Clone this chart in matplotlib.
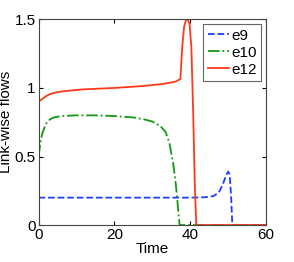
import numpy as np
import matplotlib.pyplot as plt

plt.rcParams['font.family'] = ['Liberation Sans', 'DejaVu Sans']

# e9 (blue dashed)
t9 = [0, 10, 20, 30, 40, 44, 46, 47.5, 48.5, 49.3, 50.0, 50.4, 50.8, 51.1, 51.3, 60]
f9 = [0.2, 0.2, 0.2, 0.2, 0.2, 0.203, 0.21, 0.235, 0.29, 0.35, 0.39, 0.37, 0.2, 0.0, 0.0, 0.0]

# e10 (green dash-dot)
t10 = [0, 0.5, 1, 2, 3, 4, 6, 10, 15, 20, 25, 28, 30, 32, 33.5, 34.5, 35.5, 36.2, 36.8, 37.2, 60]
f10 = [0.5, 0.6, 0.67, 0.74, 0.77, 0.785, 0.795, 0.8, 0.8, 0.795, 0.785, 0.77, 0.755, 0.725, 0.68, 0.6, 0.45, 0.3, 0.12, 0.0, 0.0]

# e12 (red solid)
t12 = [0, 1, 2, 3, 5, 8, 12, 20, 28, 33, 36, 37.4, 37.9, 38.4, 38.9, 39.3, 39.8, 40.3, 40.8, 41.2, 41.6, 60]
f12 = [0.9, 0.92, 0.94, 0.955, 0.97, 0.98, 0.99, 1.0, 1.015, 1.03, 1.045, 1.065, 1.3, 1.45, 1.495, 1.5, 1.47, 1.3, 0.8, 0.3, 0.0, 0.0]

fig = plt.figure(figsize=(2.94, 2.62), dpi=100)
ax = fig.add_axes([0.131, 0.141, 0.774, 0.785])
ax.plot(t9, f9, '--', color='#1f3fff', lw=1.3, label='e9')
ax.plot(t10, f10, '-.', color='#119911', lw=1.3, label='e10')
ax.plot(t12, f12, '-', color='#ff3a1a', lw=1.3, label='e12')

ax.set_xlim(0, 60)
ax.set_ylim(0, 1.5)
ax.set_xticks([0, 20, 40, 60])
ax.set_yticks([0, 0.5, 1, 1.5])
ax.set_yticklabels(['0', '0.5', '1', '1.5'])
ax.tick_params(direction='in', top=True, right=True, length=3, labelsize=11, pad=2)
for s in ax.spines.values():
    s.set_color('#444444')
    s.set_linewidth(0.8)
ax.set_xlabel('Time', fontsize=11, labelpad=0)
ax.set_ylabel('Link-wise flows', fontsize=11, labelpad=1)

leg = ax.legend(loc='upper right', fontsize=11, handlelength=1.4, handletextpad=0.15,
                borderpad=0.3, labelspacing=0.2, fancybox=False, framealpha=1,
                borderaxespad=0.3)
leg.get_frame().set_edgecolor('#666666')
leg.get_frame().set_linewidth(0.8)

fig.savefig('out.png', dpi=100)
